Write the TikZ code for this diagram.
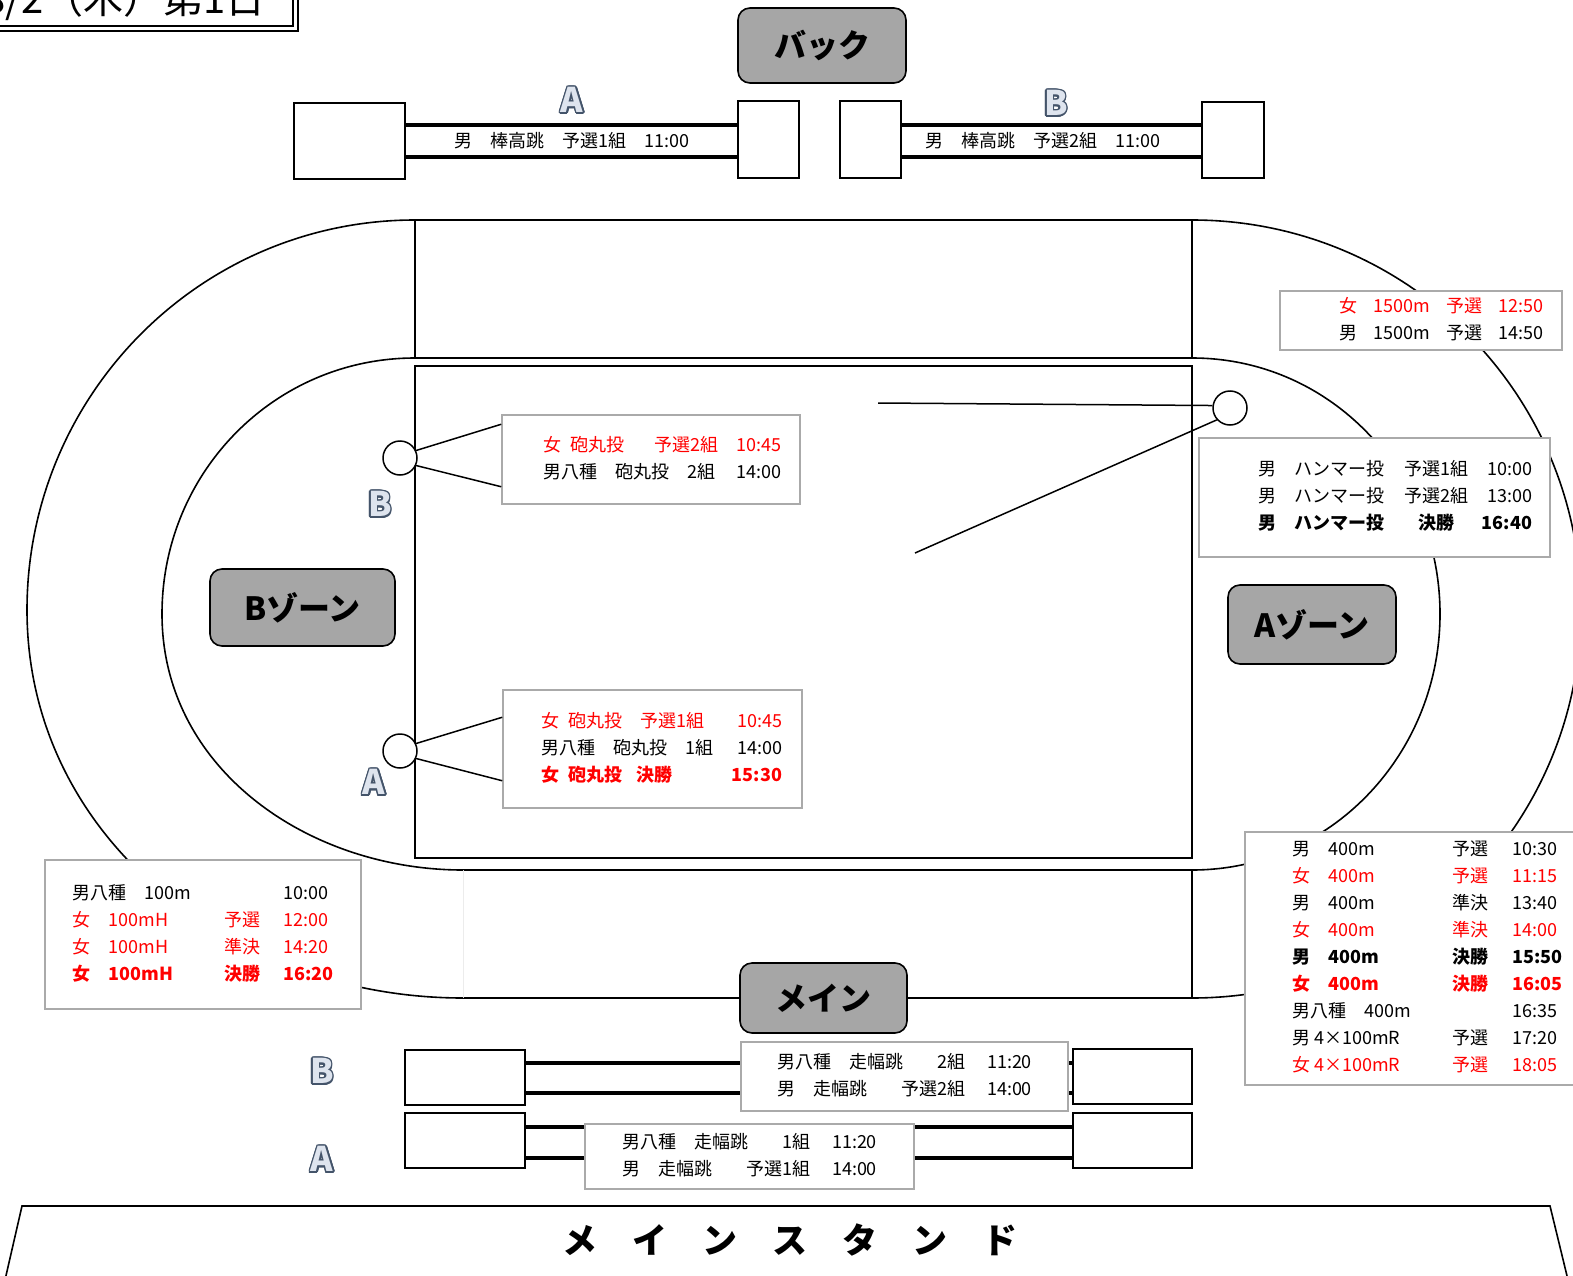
\documentclass[tikz,border=0pt]{standalone}
\usepackage{fontspec}
\setmainfont{Noto Sans CJK JP}
\usepackage{xcolor}
\usepackage{contour}
\contourlength{1.6pt}
\definecolor{zonegray}{RGB}{166,166,166}
\definecolor{boxgray}{RGB}{170,170,170}
\definecolor{lettdark}{RGB}{68,84,106}
\definecolor{lettlight}{RGB}{222,228,238}
\newcommand{\redtx}{\leavevmode\color{red}}
\newcommand{\redbf}{\leavevmode\color{red}\bfseries}
\newcommand{\abmark}[1]{{\color{lettlight}\contour{lettdark}{#1}}}
\begin{document}
\begin{tikzpicture}
  [x=1pt,y=-1pt,
   Track/.style={line width=1.6pt},
   Pit/.style={draw=black,line width=2pt,fill=white,inner sep=0pt},
   Run/.style={line width=4pt},
   Zone/.style={draw=black,line width=1.6pt,fill=zonegray,rounded corners=12pt,inner sep=0pt,font=\fontsize{32}{36}\selectfont\bfseries},
   Box/.style={draw=boxgray,line width=1.5pt,fill=white,inner sep=0pt,font=\fontsize{18}{27}\selectfont},
   Ring/.style={circle,draw=black,line width=1.5pt,fill=white,minimum size=34pt,inner sep=0pt},
   Mark/.style={inner sep=0pt,font=\fontsize{34}{34}\selectfont\bfseries}]
  \useasboundingbox (0,0) rectangle (1573,1276);

  % title
  \node[anchor=base east,inner sep=0pt,font=\fontsize{40}{40}\selectfont] (title) at (266,14) {8/2（木）第1日};
  \draw[line width=1.5pt] (-5,26) -- (293,26) -- (293,-5);
  \draw[line width=1.5pt] (-5,31) -- (298,31) -- (298,-5);

  % track
  \draw[Track] (415,220) rectangle (1192,358);
  \draw[Track] (415,366) rectangle (1192,858);
  \draw[Track] (463,870) -- (1192,870) -- (1192,998) -- (463,998);
  \draw[gray!15,line width=1pt] (463,870) -- (463,998);
  \draw[Track] (415,220) to[out=180,in=90] (27,610) to[out=-90,in=180] (463,998);
  \draw[Track] (415,358) to[out=180,in=90] (162,614) to[out=-90,in=180] (463,870);
  \draw[Track] (1192,220) to[out=0,in=90] (1581,609) to[out=-90,in=0] (1192,998);
  \draw[Track] (1192,358) to[out=0,in=90] (1440,614) to[out=-90,in=0] (1192,870);

  % pole vault
  \node[Pit,minimum width=111pt,minimum height=76pt] (pvAl) at (349.5,141) {};
  \node[Pit,minimum width=61pt,minimum height=77pt] (pvAr) at (768.5,139.5) {};
  \node[Pit,minimum width=61pt,minimum height=77pt] (pvBl) at (870.5,139.5) {};
  \node[Pit,minimum width=62pt,minimum height=76pt] (pvBr) at (1233,140) {};
  \draw[Run] ([yshift=16pt]pvAl.east) -- ([yshift=16pt]pvAl.east -| pvAr.west);
  \draw[Run] ([yshift=-16pt]pvAl.east) -- ([yshift=-16pt]pvAl.east -| pvAr.west);
  \draw[Run] ([yshift=14.5pt]pvBl.east) -- ([yshift=14.5pt]pvBl.east -| pvBr.west);
  \draw[Run] ([yshift=-17.5pt]pvBl.east) -- ([yshift=-17.5pt]pvBl.east -| pvBr.west);
  \node[font=\fontsize{18}{18}\selectfont] (pvAt) at (572,141) {男　棒高跳　予選1組　11:00};
  \node[font=\fontsize{18}{18}\selectfont] (pvBt) at (1043,141) {男　棒高跳　予選2組　11:00};
  \node[Mark] (pvAm) at (572,101) {\abmark{A}};
  \node[Mark] (pvBm) at (1056,104) {\abmark{B}};

  % zones
  \node[Zone,minimum width=168pt,minimum height=75pt] (back) at (822,45.5) {バック};
  \node[Zone,minimum width=185pt,minimum height=77pt] (bzone) at (302.5,607.5) {Bゾーン};
  \node[Zone,minimum width=168pt,minimum height=79pt] (azone) at (1312,624.5) {Aゾーン};
  \node[Zone,minimum width=167pt,minimum height=70pt] (main) at (823.5,998) {メイン};

  % shot put
  \node[Ring] (spB) at (400,458) {};
  \node[Box,minimum height=89pt,text width=260pt,inner xsep=19pt,align=right] (spBbox) at (651,459.5) {%
    \begin{tabular}{@{}l@{\hspace{18pt}}r@{}}
    \redtx 女\hspace{9pt}砲丸投\hspace{30pt}予選2組 & \redtx 10:45\\
    男八種　砲丸投　2組 & 14:00
    \end{tabular}};
  \draw[line width=1.5pt] (spB.25) -- ([yshift=-10pt]spBbox.north west);
  \draw[line width=1.5pt] (spB.-25) -- ([yshift=18pt]spBbox.south west);
  \node[Mark] (spBm) at (380,505) {\abmark{B}};

  \node[Ring] (spA) at (400,751) {};
  \node[Box,minimum height=118pt,text width=259pt,inner xsep=20pt,align=right] (spAbox) at (652.5,749) {%
    \begin{tabular}{@{}l@{\hspace{18pt}}r@{}}
    \redtx 女\hspace{9pt}砲丸投\hspace{18pt}予選1組 & \redtx 10:45\\
    男八種　砲丸投　1組 & 14:00\\
    \redbf 女\hspace{9pt}砲丸投\hspace{14pt}決勝 & \redbf 15:30
    \end{tabular}};
  \draw[line width=1.5pt] (spA.25) -- ([yshift=-28pt]spAbox.north west);
  \draw[line width=1.5pt] (spA.-25) -- ([yshift=28pt]spAbox.south west);
  \node[Mark] (spAm) at (374,783) {\abmark{A}};

  % hammer
  \node[Ring] (hm) at (1230,408) {};
  \coordinate (hmS) at (878,403);
  \coordinate (hmL) at (915,553);
  \draw[line width=1.5pt] (hmS) -- (hm.172);
  \draw[line width=1.5pt] (hmL) -- (hm.222);
  \node[Box,minimum height=119pt,text width=315pt,inner xsep=18pt,align=right] (hmbox) at (1374.5,497.5) {%
    \begin{tabular}{@{}l@{\hspace{20pt}}c@{\hspace{13pt}}r@{}}
    男　ハンマー投 & 予選1組 & 10:00\\
    男　ハンマー投 & 予選2組 & 13:00\\
    \bfseries 男　ハンマー投 & \bfseries 決勝 & \bfseries 16:40
    \end{tabular}};

  % running
  \node[Box,minimum height=59pt,text width=244pt,inner xsep=19pt,align=right] (r1500) at (1421,320.5) {%
    \begin{tabular}{@{}l@{\hspace{16pt}}l@{\hspace{16pt}}l@{\hspace{16pt}}l@{}}
    \redtx 女 & \redtx 1500m & \redtx 予選 & \redtx 12:50\\
    男 & 1500m & 予選 & 14:50
    \end{tabular}};
  \node[Box,anchor=north west,minimum width=365pt,minimum height=253pt] (r400) at (1244,831) {%
    \begin{tabular}{@{}p{160pt}@{}p{60pt}@{}l@{}}
    男　400m & 予選 & 10:30\\
    \redtx 女　400m & \redtx 予選 & \redtx 11:15\\
    男　400m & 準決 & 13:40\\
    \redtx 女　400m & \redtx 準決 & \redtx 14:00\\
    \bfseries 男　400m & \bfseries 決勝 & \bfseries 15:50\\
    \redbf 女　400m & \redbf 決勝 & \redbf 16:05\\
    男八種　400m & & 16:35\\
    男 4×100mR & 予選 & 17:20\\
    \redtx 女 4×100mR & \redtx 予選 & \redtx 18:05
    \end{tabular}};
  \node[Box,minimum width=316pt,minimum height=149pt] (r100) at (203,934.5) {%
    \begin{tabular}{@{}p{152pt}@{}p{59pt}@{}l@{}}
    男八種　100m & & 10:00\\
    \redtx 女　100mH & \redtx 予選 & \redtx 12:00\\
    \redtx 女　100mH & \redtx 準決 & \redtx 14:20\\
    \redbf 女　100mH & \redbf 決勝 & \redbf 16:20
    \end{tabular}};

  % long jump
  \node[Pit,minimum width=120pt,minimum height=55pt] (ljBl) at (465,1077.5) {};
  \node[Pit,minimum width=119pt,minimum height=55pt] (ljBr) at (1132.5,1076.5) {};
  \node[Pit,minimum width=120pt,minimum height=55pt] (ljAl) at (465,1140.5) {};
  \node[Pit,minimum width=119pt,minimum height=55pt] (ljAr) at (1132.5,1140.5) {};
  \draw[Run] ([yshift=14.5pt]ljBl.east) -- ([yshift=14.5pt]ljBl.east -| ljBr.west);
  \draw[Run] ([yshift=-15.5pt]ljBl.east) -- ([yshift=-15.5pt]ljBl.east -| ljBr.west);
  \draw[Run] ([yshift=13.5pt]ljAl.east) -- ([yshift=13.5pt]ljAl.east -| ljAr.west);
  \draw[Run] ([yshift=-17.5pt]ljAl.east) -- ([yshift=-17.5pt]ljAl.east -| ljAr.west);
  \node[Box,minimum width=327pt,minimum height=69pt] (ljBt) at (904.5,1076.5) {%
    \begin{tabular}{@{}p{124pt}@{}r@{\hspace{22pt}}l@{}}
    男八種　走幅跳 & 2組 & 11:20\\
    男　走幅跳 & 予選2組 & 14:00
    \end{tabular}};
  \node[Box,minimum width=329pt,minimum height=65pt] (ljAt) at (749.5,1156.5) {%
    \begin{tabular}{@{}p{124pt}@{}r@{\hspace{22pt}}l@{}}
    男八種　走幅跳 & 1組 & 11:20\\
    男　走幅跳 & 予選1組 & 14:00
    \end{tabular}};
  \node[Mark] (ljBm) at (322,1072) {\abmark{B}};
  \node[Mark] (ljAm) at (322,1160) {\abmark{A}};

  % main stand
  \draw[line width=1.6pt] (5,1280) -- (22,1206) -- (1550,1206) -- (1568,1280);
  \node[font=\fontsize{35}{35}\selectfont\bfseries] (stand) at (790,1240) {メ　イ　ン　ス　タ　ン　ド};
\end{tikzpicture}
\end{document}
